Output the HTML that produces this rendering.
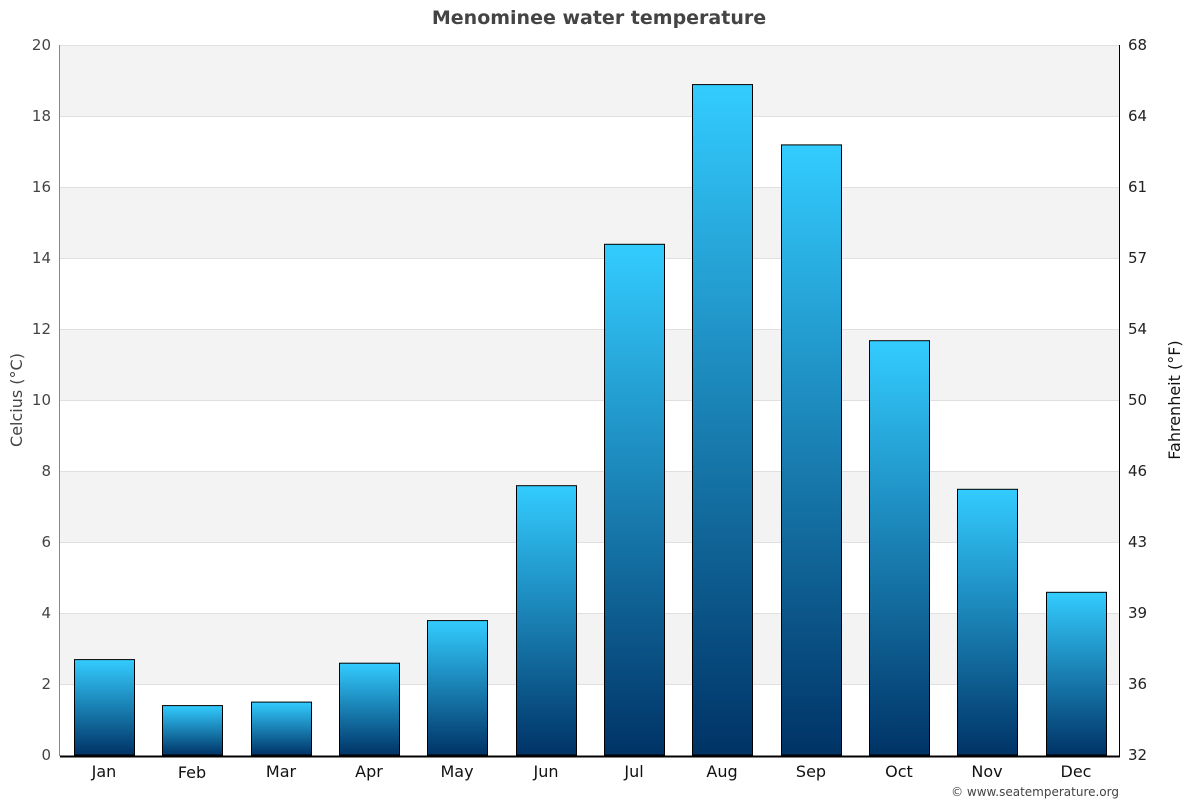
<!DOCTYPE html>
<html><head><meta charset="utf-8"><style>body{margin:0;background:#fff}svg{display:block;font-family:"DejaVu Sans","Liberation Sans",sans-serif}</style></head><body>
<svg width="1200" height="800" viewBox="0 0 1200 800">
<defs><linearGradient id="g" x1="0" y1="0" x2="0" y2="1"><stop offset="0" stop-color="#33ccff"/><stop offset="1" stop-color="#003366"/></linearGradient></defs>
<text x="599" y="24" text-anchor="middle" font-size="19" font-weight="bold" fill="#444">Menominee water temperature</text>
<g fill="#f3f3f3">
<rect x="60" y="45" width="1059" height="71"/><rect x="60" y="187" width="1059" height="71"/><rect x="60" y="329" width="1059" height="71"/><rect x="60" y="471" width="1059" height="71"/><rect x="60" y="613" width="1059" height="71"/>
</g>
<g stroke="#e0e0e0" stroke-width="1">
<line x1="60" y1="45.5" x2="1119" y2="45.5"/><line x1="60" y1="116.5" x2="1119" y2="116.5"/><line x1="60" y1="187.5" x2="1119" y2="187.5"/><line x1="60" y1="258.5" x2="1119" y2="258.5"/><line x1="60" y1="329.5" x2="1119" y2="329.5"/><line x1="60" y1="400.5" x2="1119" y2="400.5"/><line x1="60" y1="471.5" x2="1119" y2="471.5"/><line x1="60" y1="542.5" x2="1119" y2="542.5"/><line x1="60" y1="613.5" x2="1119" y2="613.5"/><line x1="60" y1="684.5" x2="1119" y2="684.5"/>
</g>
<line x1="59.5" y1="45" x2="59.5" y2="756" stroke="#888"/>
<line x1="1119.5" y1="45" x2="1119.5" y2="756" stroke="#000"/>
<g stroke="#000" stroke-width="1" fill="url(#g)">
<rect x="74.5" y="659.6" width="60" height="95.4"/>
<rect x="162.5" y="705.6" width="60" height="49.4"/>
<rect x="251.5" y="702.1" width="60" height="52.9"/>
<rect x="339.5" y="663.2" width="60" height="91.8"/>
<rect x="427.5" y="620.6" width="60" height="134.4"/>
<rect x="516.5" y="485.7" width="60" height="269.3"/>
<rect x="604.5" y="244.3" width="60" height="510.7"/>
<rect x="692.5" y="84.6" width="60" height="670.4"/>
<rect x="781.5" y="144.9" width="60" height="610.1"/>
<rect x="869.5" y="340.7" width="60" height="414.3"/>
<rect x="957.5" y="489.3" width="60" height="265.7"/>
<rect x="1046.5" y="592.3" width="60" height="162.7"/>
</g>
<line x1="60" y1="756.5" x2="1120" y2="756.5" stroke="#000" stroke-width="2"/>
<g font-size="15" fill="#444" text-anchor="end">
<text x="51" y="50">20</text><text x="51" y="121">18</text><text x="51" y="192">16</text><text x="51" y="263">14</text><text x="51" y="334">12</text><text x="51" y="405">10</text><text x="51" y="476">8</text><text x="51" y="547">6</text><text x="51" y="618">4</text><text x="51" y="689">2</text><text x="51" y="760">0</text>
</g>
<g font-size="15" fill="#222" text-anchor="start">
<text x="1128" y="50">68</text><text x="1128" y="121">64</text><text x="1128" y="192">61</text><text x="1128" y="263">57</text><text x="1128" y="334">54</text><text x="1128" y="405">50</text><text x="1128" y="476">46</text><text x="1128" y="547">43</text><text x="1128" y="618">39</text><text x="1128" y="689">36</text><text x="1128" y="760">32</text>
</g>
<g font-size="16" fill="#111" text-anchor="middle">
<text x="104" y="777">Jan</text><text x="192" y="778">Feb</text><text x="281" y="777">Mar</text><text x="369" y="777">Apr</text><text x="457" y="777">May</text><text x="546" y="777">Jun</text><text x="634" y="777">Jul</text><text x="722" y="777">Aug</text><text x="811" y="777">Sep</text><text x="899" y="777">Oct</text><text x="987" y="777">Nov</text><text x="1076" y="777">Dec</text>
</g>
<text transform="translate(22,400) rotate(-90)" text-anchor="middle" font-size="16" fill="#444">Celcius (°C)</text>
<text transform="translate(1180,400) rotate(-90)" text-anchor="middle" font-size="16" fill="#111">Fahrenheit (°F)</text>
<text x="1119" y="796" text-anchor="end" font-size="12" fill="#444">© www.seatemperature.org</text>
</svg>
</body></html>
